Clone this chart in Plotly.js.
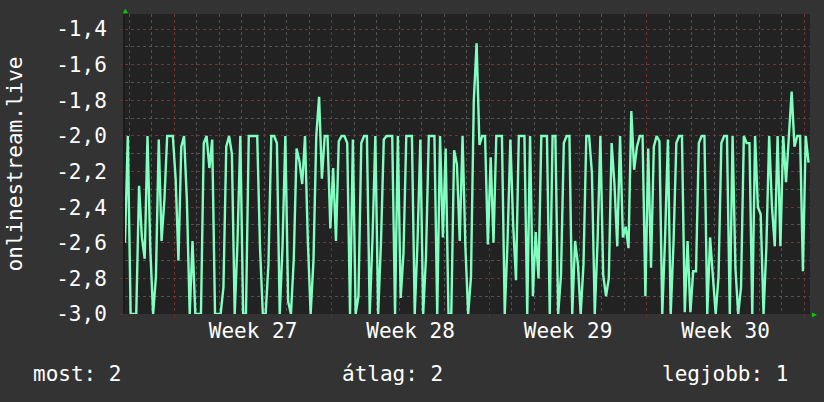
<!DOCTYPE html>
<html>
<head>
<meta charset="utf-8">
<script src="https://cdn.plot.ly/plotly-3.0.1.min.js"></script>
<style>
html,body{margin:0;padding:0;background:#333333;}
#chart{width:824px;height:402px;}
</style>
</head>
<body>
<div id="chart"></div>
<script>
// ---- data (3-hour samples) ----
const startDay = -2.19;      // days relative to start of Week 27
const stepDay = 0.125;       // 3 hours
const values = [
-2.6,-2.0,-3.0,-3.0,-3.0,-2.28,-2.57,-2.69,-2.0,-2.64,
-3.0,-2.79,-2.02,-2.59,-2.36,-2.0,-2.0,-2.0,-2.24,-2.7,
-2.06,-2.0,-2.36,-3.0,-2.59,-3.0,-3.0,-3.0,-2.04,-2.0,
-2.18,-2.02,-3.0,-3.0,-3.0,-2.85,-2.06,-2.0,-2.1,-3.0,
-2.59,-2.0,-3.0,-3.0,-2.0,-2.0,-2.0,-2.0,-2.63,-3.0,
-3.0,-2.72,-2.0,-2.0,-2.04,-3.0,-2.62,-2.0,-2.93,-3.0,
-2.69,-2.07,-2.14,-2.27,-2.0,-2.59,-3.0,-2.7,-2.0,-1.78,
-2.24,-2.0,-2.0,-2.52,-2.18,-2.59,-2.03,-2.0,-2.0,-2.04,
-3.0,-2.02,-3.0,-2.9,-2.04,-2.0,-2.0,-3.0,-2.57,-2.0,
-3.0,-2.6,-2.02,-2.0,-2.0,-2.0,-3.0,-2.0,-2.91,-2.66,
-2.0,-2.0,-2.0,-3.0,-2.59,-2.02,-3.0,-2.68,-2.0,-2.0,
-2.0,-3.0,-2.0,-2.57,-2.07,-3.0,-3.0,-2.08,-2.16,-2.59,
-2.0,-2.62,-3.0,-2.79,-1.8,-1.48,-2.05,-2.0,-2.0,-2.61,
-2.12,-2.6,-2.0,-2.0,-2.0,-3.0,-2.59,-2.02,-2.5,-2.81,
-2.0,-2.0,-2.0,-3.0,-2.0,-2.9,-2.54,-2.8,-2.0,-2.0,
-2.0,-3.0,-2.0,-2.0,-3.0,-2.78,-2.04,-2.0,-2.0,-3.0,
-2.59,-2.72,-3.0,-2.72,-2.0,-2.0,-2.21,-3.0,-2.59,-2.0,
-2.78,-2.9,-2.8,-2.04,-2.27,-2.62,-2.0,-2.57,-2.51,-2.63,
-1.86,-2.19,-2.06,-2.0,-2.0,-2.9,-2.07,-2.74,-2.06,-2.0,
-2.03,-3.0,-2.57,-2.02,-3.0,-2.6,-2.04,-2.0,-2.0,-2.99,
-2.59,-2.99,-2.76,-2.76,-2.04,-2.0,-2.0,-3.0,-2.57,-2.79,
-3.0,-2.79,-2.04,-2.0,-2.0,-3.0,-2.0,-2.74,-3.0,-2.85,
-2.0,-2.04,-2.04,-3.0,-2.0,-2.4,-2.44,-3.0,-2.63,-2.0,
-2.4,-2.62,-2.0,-2.62,-2.0,-2.26,-2.0,-1.75,-2.06,-2.0,
-2.0,-2.76,-2.0,-2.15
];
const weekTickVals = [3.5, 10.5, 17.5, 24.5];
const weekTickText = ["Week 27", "Week 28", "Week 29", "Week 30"];
const weekStarts = [0, 7, 14, 21, 28];
const yTickVals = [-3.0, -2.8, -2.6, -2.4, -2.2, -2.0, -1.8, -1.6, -1.4];
const yTickText = ["-3,0", "-2,8", "-2,6", "-2,4", "-2,2", "-2,0", "-1,8", "-1,6", "-1,4"];
const seriesName = "onlinestream.live";
const statLabels = ["most", "átlag", "legjobb"];
const statValues = [2, 2, 1];

const xs = values.map((v, i) => startDay + i * stepDay);
const xRange = [-2.19, 28.25];
const yRange = [-3.0, -1.315];

const FONT = "DejaVu Sans Mono";
const white = "#ffffff";
const redGrid = "rgba(125,45,45,0.85)";
const greyGrid = "rgba(90,90,90,0.85)";

const trace = {
  x: xs, y: values, type: "scatter", mode: "lines",
  line: {color: "#80ffc0", width: 2.4},
  hoverinfo: "skip", showlegend: false
};

const layout = {
  width: 824, height: 402,
  margin: {l: 125, r: 14, t: 14, b: 88, pad: 0},
  paper_bgcolor: "#333333",
  plot_bgcolor: "#222222",
  showlegend: false,
  font: {family: FONT, size: 21, color: white},
  xaxis: {
    range: xRange, showgrid: false, zeroline: false,
    tickmode: "array", tickvals: weekTickVals, ticktext: weekTickText,
    ticks: "", ticklabelstandoff: 2,
    tickfont: {family: FONT, size: 21, color: white},
    showline: false, fixedrange: true
  },
  xaxis2: {
    overlaying: "x", anchor: "y", matches: "x", range: xRange,
    tickmode: "array", tickvals: weekStarts, showticklabels: false,
    showgrid: true, gridcolor: redGrid, griddash: "dot", gridwidth: 1,
    ticks: "outside", ticklen: 3, tickcolor: redGrid,
    minor: {dtick: 1, tick0: 0, showgrid: true, gridcolor: greyGrid, griddash: "dot", gridwidth: 1, ticks: ""},
    zeroline: false, showline: false
  },
  yaxis: {
    range: yRange, zeroline: false,
    tickmode: "array", tickvals: yTickVals, ticktext: yTickText,
    showgrid: true, gridcolor: redGrid, griddash: "dot", gridwidth: 1,
    minor: {dtick: 0.1, tick0: -3.0, showgrid: true, gridcolor: greyGrid, griddash: "dot", gridwidth: 1},
    ticks: "outside", ticklen: 3, tickcolor: redGrid,
    ticklabelstandoff: 9,
    tickfont: {family: FONT, size: 21, color: white},
    showline: true, linecolor: "#1c1c1c", linewidth: 2,
    title: {text: seriesName, font: {family: FONT, size: 21, color: white}, standoff: 28},
    fixedrange: true
  },
  annotations: [
    {xref: "paper", yref: "paper", x: 0, y: 1, xanchor: "center", yanchor: "bottom",
     text: "▲", showarrow: false, font: {size: 8, color: "#00cc00"}, yshift: -3},
    {xref: "paper", yref: "paper", x: 1, y: 0, xanchor: "left", yanchor: "middle",
     text: "▶", showarrow: false, font: {size: 8, color: "#00cc00"}, xshift: 0},
    {xref: "paper", yref: "paper", x: -0.137, y: -0.2, xanchor: "left", yanchor: "middle",
     text: statLabels[0] + ": " + statValues[0], showarrow: false, font: {family: FONT, size: 21, color: white}},
    {xref: "paper", yref: "paper", x: 0.391, y: -0.2, xanchor: "center", yanchor: "middle",
     text: statLabels[1] + ": " + statValues[1], showarrow: false, font: {family: FONT, size: 21, color: white}},
    {xref: "paper", yref: "paper", x: 0.9705, y: -0.2, xanchor: "right", yanchor: "middle",
     text: statLabels[2] + ": " + statValues[2], showarrow: false, font: {family: FONT, size: 21, color: white}}
  ]
};

// invisible trace so xaxis2 is rendered with its grid
const gridTrace = {x: [xRange[0]], y: [yRange[0]], xaxis: "x2", yaxis: "y", mode: "markers",
  marker: {opacity: 0}, hoverinfo: "skip", showlegend: false};

Plotly.newPlot("chart", [gridTrace, trace], layout, {staticPlot: true, displayModeBar: false});
</script>
</body>
</html>
